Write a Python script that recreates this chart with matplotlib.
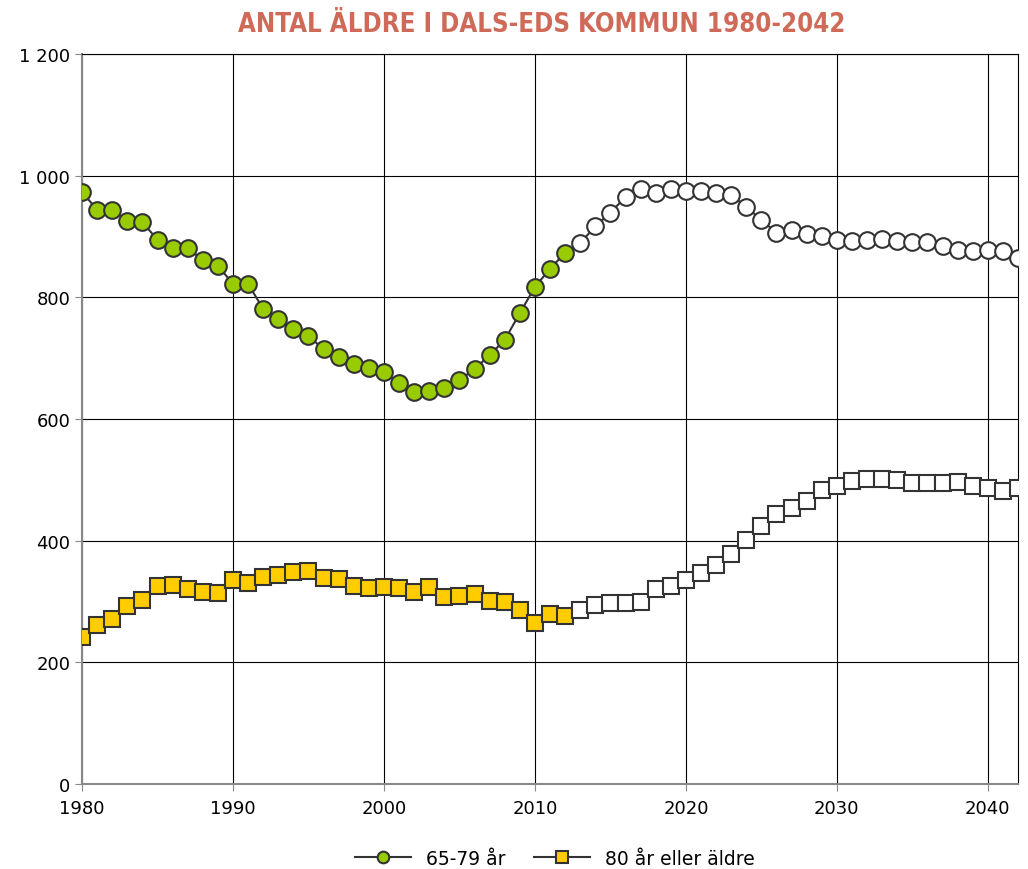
import matplotlib.pyplot as plt
import matplotlib.ticker as mticker

# År 1980-2042, utfall t.o.m. 2012, prognos därefter
ar = list(range(1980, 2043))
sista_utfall = 2012

alder_65_79 = [973, 944, 944, 925, 924, 894, 881, 881, 861, 852,
               822, 822, 781, 764, 748, 736, 715, 702, 690, 684,
               677, 659, 644, 646, 651, 664, 682, 705, 730, 774,
               817, 847, 873, 889, 917, 939, 965, 978, 972, 978,
               975, 975, 972, 968, 949, 927, 906, 911, 904, 901,
               894, 893, 894, 896, 893, 891, 891, 884, 878, 876,
               878, 876, 865]

alder_80_plus = [242, 261, 271, 293, 302, 326, 327, 321, 316, 314,
                 335, 330, 340, 344, 349, 350, 339, 337, 326, 322,
                 324, 322, 316, 324, 307, 309, 312, 301, 299, 286,
                 265, 280, 276, 286, 294, 298, 298, 299, 321, 326,
                 335, 347, 360, 378, 401, 424, 444, 454, 465, 483,
                 490, 498, 501, 501, 500, 495, 495, 495, 496, 490,
                 487, 482, 487]

y_ticks = [0, 200, 400, 600, 800, 1000, 1200]
x_ticks = [1980, 1990, 2000, 2010, 2020, 2030, 2040]

n_utfall = ar.index(sista_utfall) + 1

fig = plt.figure(figsize=(10.28, 8.7), dpi=100)
ax = fig.add_axes([0.0798, 0.0977, 0.9105, 0.8391])

kant = '#333333'

# Linjer med fyllda markörer för utfallsåren
ax.plot(ar, alder_65_79, color=kant, lw=1.5, marker='o', ms=12,
        mfc='#99CC00', mec=kant, mew=1.5, markevery=list(range(n_utfall)),
        label='65-79 år', zorder=3)
ax.plot(ar[n_utfall:], alder_65_79[n_utfall:], ls='none', marker='o', ms=12,
        mfc='white', mec=kant, mew=1.5, zorder=4)

ax.plot(ar, alder_80_plus, color=kant, lw=1.5, marker='s', ms=11.5,
        mfc='#FFCC00', mec=kant, mew=1.5, markevery=list(range(n_utfall)),
        label='80 år eller äldre', zorder=3)
ax.plot(ar[n_utfall:], alder_80_plus[n_utfall:], ls='none', marker='s', ms=11.5,
        mfc='white', mec=kant, mew=1.5, zorder=4)

ax.set_xlim(1980, 2042)
ax.set_ylim(0, 1200)
ax.set_xticks(x_ticks)
ax.set_yticks(y_ticks)
ax.yaxis.set_major_formatter(mticker.FuncFormatter(lambda v, p: f'{int(v):,}'.replace(',', ' ')))
ax.grid(True, color='black', lw=0.8)
ax.set_axisbelow(True)

for s in ['top', 'right']:
    ax.spines[s].set_color('black')
    ax.spines[s].set_linewidth(0.8)
for s in ['left', 'bottom']:
    ax.spines[s].set_color('#888888')
    ax.spines[s].set_linewidth(1.5)

ax.tick_params(axis='both', labelsize=13, colors='#888888', labelcolor='black', length=5)
ax.tick_params(axis='x', pad=6)

fig.text(0.527, 0.971, 'ANTAL ÄLDRE I DALS-EDS KOMMUN 1980-2042',
         ha='center', va='center', fontsize=18.5, fontweight='bold',
         color='#CF6A58', fontstretch='condensed',
         family=['DejaVu Sans'])

fig.legend(loc='lower center', ncol=2, frameon=False, fontsize=13.5,
           bbox_to_anchor=(0.54, -0.018), handlelength=3, columnspacing=1.5,
           markerscale=0.7)

fig.savefig('out.png', dpi=100)
